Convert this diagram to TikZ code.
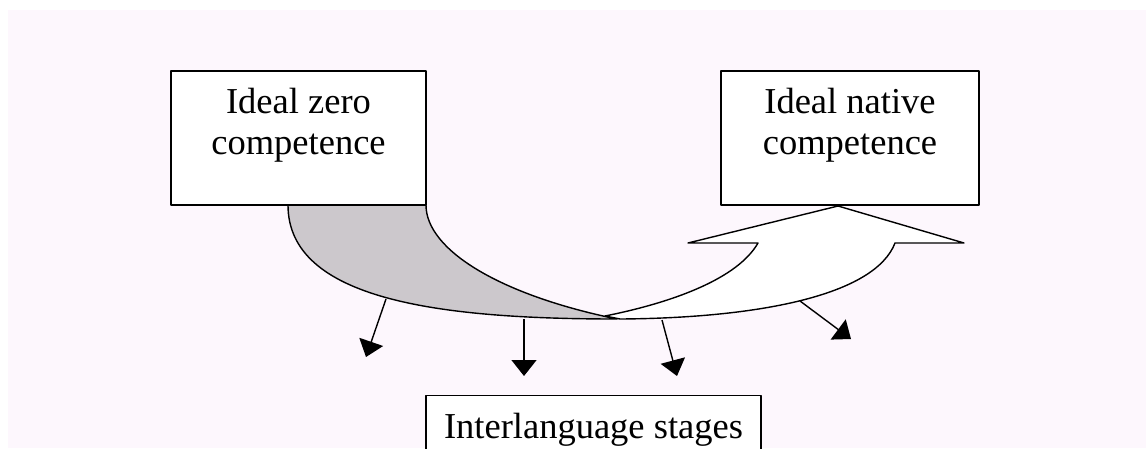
\documentclass[tikz,border=0pt]{standalone}
\usepackage{fontspec}
\setmainfont{Liberation Serif}
\usetikzlibrary{arrows.meta}
\definecolor{paper}{RGB}{253,247,253}
\definecolor{band}{RGB}{204,200,204}
\newcommand{\boxfont}{\fontsize{36.5}{41}\selectfont}

\begin{document}
\begin{tikzpicture}[x=1pt,y=-1pt,line width=1.4pt,line join=round,
  box/.style={draw,fill=white,inner sep=0pt},
  lbl/.style={anchor=north,inner sep=0pt,align=center,font=\boxfont},
  drop/.style={-{Triangle[length=16pt,width=25pt]}}]
\useasboundingbox (0,0) rectangle (1146,448);
\fill[white] (0,0) rectangle (1146,448);
\fill[paper] (8,10) rectangle (1146,448);

% grey band leaving the zero end
\filldraw[fill=band] (288,205) .. controls (288,300) and (440,319) .. (617,319)
  .. controls (500,295) and (426,250) .. (426,205) -- cycle;

% white curved arrow up to the native end
\filldraw[fill=white] (605,316) .. controls (675,302) and (738,278) .. (758,243)
  -- (688,243) -- (838,206) -- (964,243) -- (895,243)
  .. controls (875,295) and (760,318) .. (620,319) -- cycle;

\node[box,minimum width=255pt,minimum height=134pt] (zero) at (298.5,138) {};
\node[box,minimum width=258pt,minimum height=134pt] (native) at (850,138) {};
\node[box,minimum width=335pt,minimum height=100pt,anchor=north] (stages) at (593.5,395) {};

\node[lbl] (zeroT) at ([yshift=-17pt]zero.north) {Ideal zero\\competence};
\node[lbl] (nativeT) at ([yshift=-17pt]native.north) {Ideal native\\competence};
\node[lbl] (stagesT) at ([yshift=-17pt]stages.north) {Interlanguage stages};

% stages dropping off the path
\coordinate (A) at (386,299);   \coordinate (AT) at (366,357);
\coordinate (B) at (524,319);   \coordinate (BT) at (524,376);
\coordinate (C) at (662,320);   \coordinate (CT) at (677,376);
\coordinate (D) at (800,301);   \coordinate (DT) at (851,339);

\draw[drop] (A) -- (AT);
\draw[drop] (B) -- (BT);
\draw[drop] (C) -- (CT);
\draw[drop] (D) -- (DT);
\end{tikzpicture}
\end{document}
